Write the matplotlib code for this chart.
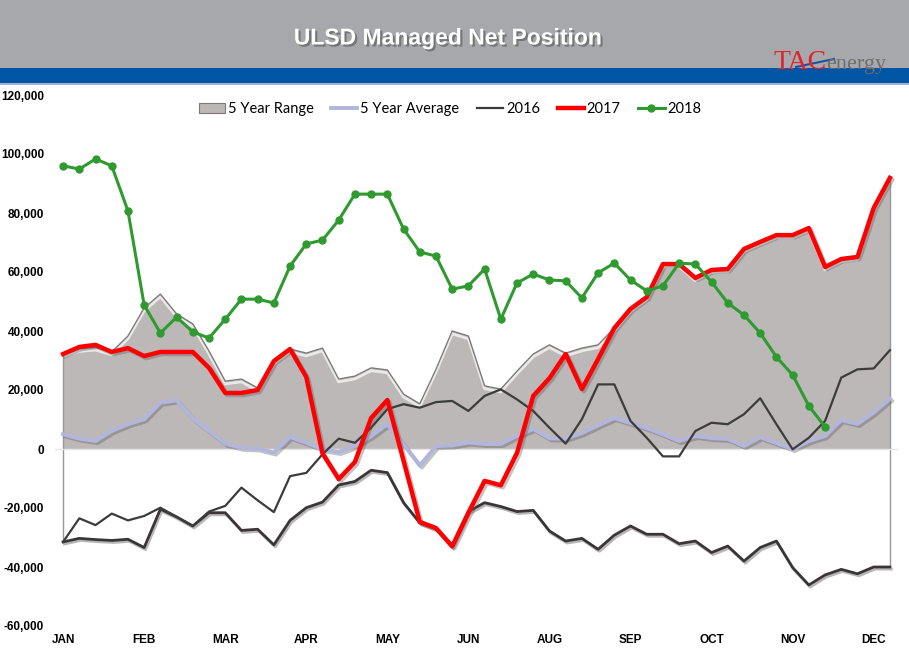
import numpy as np
import matplotlib
matplotlib.use('Agg')
from matplotlib import pyplot as plt
from matplotlib import patheffects as pe
from matplotlib.patches import Rectangle, Patch
from matplotlib.lines import Line2D

# weekly values, thousands of contracts
months = ['JAN', 'FEB', 'MAR', 'APR', 'MAY', 'JUN', 'AUG', 'SEP', 'OCT', 'NOV', 'DEC']

range_max = [32.2, 34.0, 34.5, 32.9, 38.3, 47.8, 52.5, 45.8, 42.4, 33.2,
             23.0, 23.7, 20.7, 29.8, 33.9, 32.5, 34.2, 23.7, 24.7, 27.5,
             26.8, 18.6, 15.3, 27.0, 40.0, 38.3, 21.4, 20.3, 26.4, 32.2,
             35.3, 32.5, 34.2, 35.3, 41.0, 47.5, 51.5, 62.7, 62.7, 58.0,
             60.7, 61.0, 67.8, 70.2, 72.5, 72.5, 74.9, 61.7, 64.4, 65.1,
             81.7, 91.9]
range_min = [-31.5, -30.3, -30.7, -31.0, -30.6, -33.4, -20.4, -23.0, -26.1, -21.6,
             -21.6, -27.6, -27.2, -32.5, -24.2, -19.9, -18.0, -12.2, -11.0, -7.2,
             -8.0, -18.2, -25.0, -27.0, -33.0, -21.2, -18.2, -19.5, -21.2, -20.8,
             -27.8, -31.2, -30.3, -34.0, -29.2, -26.1, -28.9, -28.9, -32.1, -31.2,
             -35.1, -32.9, -38.0, -33.4, -31.2, -40.2, -46.1, -42.7, -40.8, -42.3,
             -40.0, -40.0]
avg5 = [5.0, 3.5, 2.7, 6.1, 8.4, 10.1, 15.7, 16.5, 10.4, 6.1,
        1.8, 0.4, 0.2, -1.2, 4.1, 2.1, -0.1, -1.0, 1.0, 4.4,
        8.4, 1.5, -5.6, 1.0, 1.2, 2.2, 1.7, 1.7, 4.5, 6.8,
        3.6, 3.5, 5.4, 8.0, 10.5, 8.8, 7.1, 5.0, 2.7, 4.4,
        3.7, 3.4, 1.0, 4.0, 2.0, 0.0, 2.7, 4.4, 9.8, 8.5,
        12.3, 17.0]
y2016 = [-31.5, -23.5, -25.8, -21.9, -24.2, -22.7, -19.9, -23.0, -26.1, -21.2,
         -19.3, -13.1, -17.4, -21.4, -9.2, -8.1, -1.8, 3.5, 2.1, 7.2,
         13.5, 15.2, 14.0, 15.9, 16.3, 12.9, 18.0, 20.2, 16.8, 12.9,
         7.2, 1.8, 10.1, 21.9, 21.9, 9.5, 3.8, -2.5, -2.5, 6.1,
         8.9, 8.4, 11.8, 17.2, 8.4, -0.1, 3.8, 9.5, 24.2, 27.0,
         27.3, 33.5]
y2017 = [32.2, 34.6, 35.3, 32.9, 34.2, 31.5, 32.9, 32.9, 32.9, 27.5,
         19.0, 19.0, 20.0, 29.8, 33.9, 24.4, -1.5, -10.2, -4.4, 10.5,
         16.6, -4.0, -24.7, -26.8, -33.0, -21.6, -10.8, -12.3, -1.3, 18.0,
         24.0, 32.2, 20.3, 30.5, 41.0, 47.5, 51.5, 62.7, 62.7, 58.0,
         60.7, 61.0, 67.8, 70.2, 72.5, 72.5, 74.9, 61.7, 64.4, 65.1,
         81.7, 91.9]
y2018 = [96.0, 94.9, 98.3, 96.0, 80.7, 48.8, 39.3, 44.7, 39.7, 37.6,
         44.0, 50.8, 50.8, 49.5, 62.0, 69.5, 70.8, 77.6, 86.4, 86.4,
         86.4, 74.6, 66.8, 65.4, 54.2, 55.3, 61.0, 44.0, 56.3, 59.3,
         57.3, 57.0, 51.2, 59.7, 63.0, 57.3, 53.6, 55.3, 63.0, 62.7,
         56.6, 49.5, 45.4, 39.3, 31.2, 25.1, 14.6, 7.5]

k = 1000
weeks = np.arange(len(range_max))
rmax = np.array(range_max) * k
rmin = np.array(range_min) * k

fig = plt.figure(figsize=(9.09, 6.59), dpi=100)
fig.patch.set_facecolor('white')

# header band
fig.patches.append(Rectangle((0, 1 - 68/659), 1, 68/659, transform=fig.transFigure,
                             facecolor='#a7a8ab', edgecolor='none', zorder=0))
fig.patches.append(Rectangle((0, 1 - 83/659), 1, 15/659, transform=fig.transFigure,
                             facecolor='#0055a4', edgecolor='none', zorder=0))
fig.patches.append(Rectangle((0, 1 - 85/659), 1, 2/659, transform=fig.transFigure,
                             facecolor='#9fb3cc', edgecolor='none', zorder=0))
fig.text(0.492, 1 - 38/659, 'ULSD Managed Net Position', color='white', fontsize=16.5,
         fontweight='bold', family='Liberation Sans', ha='center', va='center',
         path_effects=[pe.withSimplePatchShadow(offset=(1.5, -1.5), shadow_rgbFace='#555555', alpha=0.6)])
# logo
fig.text(774/909, 1 - 69/659, 'TAC', color='#e0242b', fontsize=20, family='Liberation Serif',
         ha='left', va='baseline')
fig.text(826/909, 1 - 69/659, 'energy', color='#6e6e6e', fontsize=16, family='Liberation Serif',
         ha='left', va='baseline')
fig.add_artist(Line2D([796/909, 834/909], [1 - 67/659, 1 - 59/659], color='#1f4e9c', lw=1.5))

ax = fig.add_axes([55/909, 33/659, 843/909, 531/659])
ax.set_xlim(-0.5, len(weeks) - 0.5)
ax.set_ylim(-60000, 120000)

shadow = [pe.SimpleLineShadow(offset=(1.5, -1.5), shadow_color='#555555', alpha=0.35), pe.Normal()]

# 5 year range
ax.fill_between(weeks, 0, rmax, color='#bcb8b7', lw=0, zorder=1)
ax.plot(weeks, rmax, color='#7d7979', lw=1, zorder=2,
        path_effects=[pe.Stroke(offset=(0, -2), linewidth=2, foreground='white', alpha=0.7), pe.Normal()])
ax.vlines([weeks[0], weeks[-1]], [rmin[0], rmin[-1]], [rmax[0], rmax[-1]],
          color='#9a9696', lw=1, zorder=2)
ax.axhline(0, color='#e6e6e6', lw=1, zorder=2)
ax.plot(weeks, rmin, color='#3a3536', lw=2, zorder=3,
        path_effects=[pe.SimpleLineShadow(offset=(1, -1.5), shadow_color='#888888', alpha=0.6), pe.Normal()])

ax.plot(weeks, np.array(avg5) * k, color='#b3b6dc', lw=2.8, zorder=4, path_effects=shadow)
ax.plot(weeks, np.array(y2016) * k, color='#3c3c3c', lw=1.6, zorder=5)
ax.plot(weeks, np.array(y2017) * k, color='#ff0000', lw=3.2, zorder=6, path_effects=shadow)
ax.plot(weeks[:len(y2018)], np.array(y2018) * k, color='#2f9a2f', lw=2.2, marker='o', ms=5,
        zorder=7)

ax.set_xticks(weeks[::5])
ax.set_xticklabels(months)
ax.set_yticks(np.arange(-60000, 120001, 20000))
ax.set_yticklabels(['{:,}'.format(v) for v in range(-60000, 120001, 20000)])
ax.tick_params(length=0, labelsize=8.5)
ax.tick_params(axis='y', pad=8)
ax.tick_params(axis='x', pad=6)
for lab in ax.get_xticklabels() + ax.get_yticklabels():
    lab.set_fontweight('bold')
    lab.set_family('Liberation Sans')
for s in ax.spines.values():
    s.set_visible(False)

handles = [Patch(facecolor='#bcb8b7', edgecolor='#7d7979', lw=0.8),
           Line2D([], [], color='#b3b6dc', lw=2.8),
           Line2D([], [], color='#3c3c3c', lw=1.6),
           Line2D([], [], color='#ff0000', lw=3.2),
           Line2D([], [], color='#2f9a2f', lw=2.2, marker='o', ms=5)]
fig.legend(handles, ['5 Year Range', '5 Year Average', '2016', '2017', '2018'],
           loc='center', bbox_to_anchor=(450/909, 1 - 109/659), ncol=5, frameon=False,
           prop={'family': 'Lato', 'size': 10.5}, handlelength=1.8, handletextpad=0.2,
           columnspacing=1.2)

fig.savefig('out.png', dpi=100)
